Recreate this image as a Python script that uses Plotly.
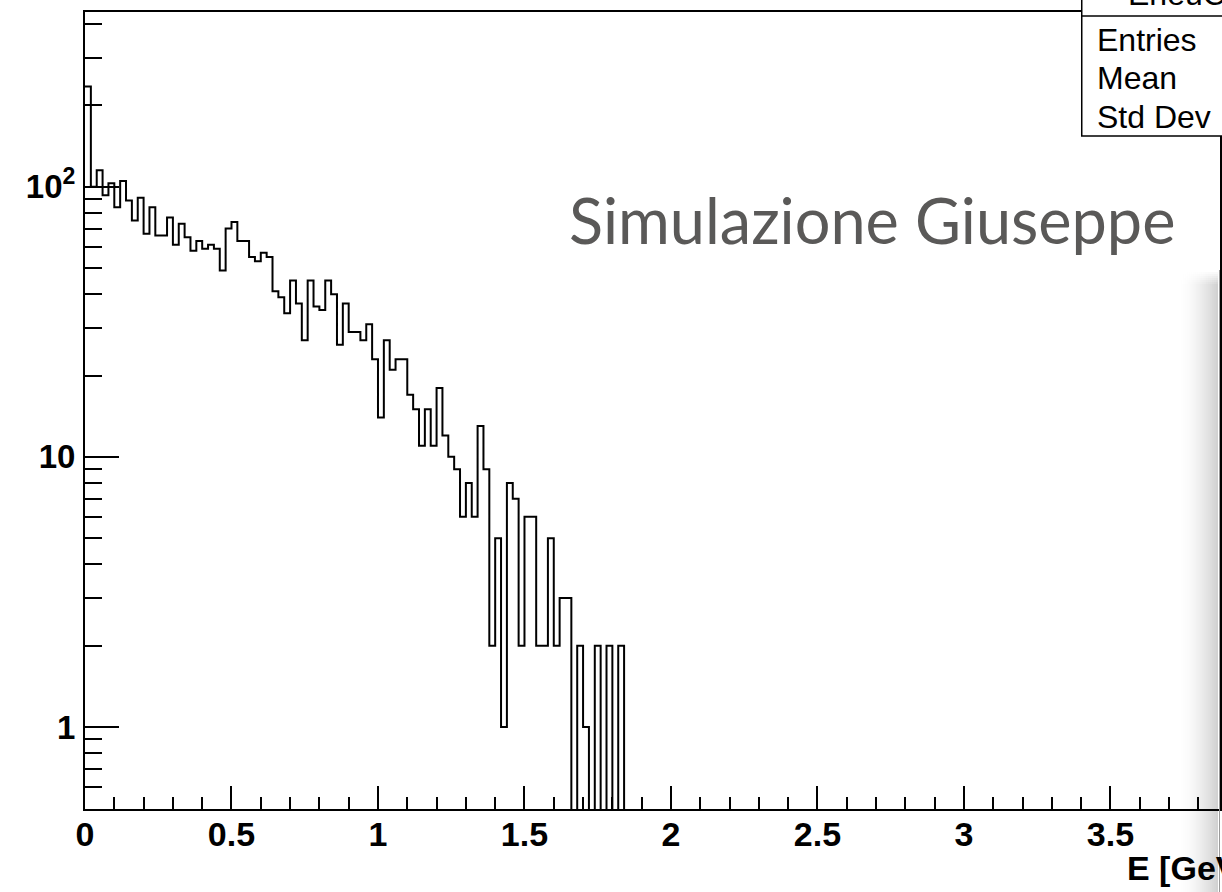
import plotly.graph_objects as go
import numpy as np

# ---------------- data ----------------
bin_width = 0.02
counts = [235, 100, 115, 93, 103, 84, 105, 89, 75, 91,
          67, 84, 66, 66, 77, 61, 73, 65, 58, 63,
          59, 61, 59, 49, 70, 74, 63, 63, 55, 53,
          57, 55, 41, 39, 34, 45, 37, 27, 45, 36,
          35, 45, 40, 26, 37, 29, 29, 27, 31, 23,
          14, 27, 21, 23, 23, 17, 15, 11, 15, 11,
          18, 12, 10, 9, 6, 8, 6, 13, 9, 2,
          5, 1, 8, 7, 2, 6, 6, 2, 2, 5,
          2, 3, 3, 0, 2, 1, 0, 2, 0, 2,
          0, 2, 0]
x_tickvals = [0, 0.5, 1, 1.5, 2, 2.5, 3, 3.5]
x_ticktext = ["0", "0.5", "1", "1.5", "2", "2.5", "3", "3.5"]
y_tickvals = [1, 10, 100]
y_ticktext = ["1", "10", "10<sup>2</sup>"]
y_minor = [0.6, 0.7, 0.8, 0.9, 2, 3, 4, 5, 6, 7, 8, 9,
           20, 30, 40, 50, 60, 70, 80, 90, 200, 300, 400]
stat_labels = ["Entries", "Mean", "Std Dev"]
title_text = "Simulazione Giuseppe"

# ---------------- geometry helpers ----------------
W, H = 1222, 892
L, T, B = 85, 12, 809
R = W


def px(xp):
    return (xp - L) / (R - L)


def py(yp):
    return (B - yp) / (B - T)


edges = np.arange(len(counts) + 1) * bin_width
c = np.array(counts, dtype=float)
yplot = np.where(c > 0, c, 1e-3)  # empty bins drop below the axis (ROOT style)
yplot = np.append(yplot, yplot[-1])

fig = go.Figure()
fig.add_trace(go.Scatter(
    x=edges, y=yplot, mode="lines", line_shape="hv",
    line=dict(color="black", width=2), hoverinfo="skip", showlegend=False))

font_root = "Liberation Sans, Arial, Helvetica, sans-serif"

fig.update_layout(
    width=W, height=H,
    margin=dict(l=L, r=0, t=T, b=H - B),
    paper_bgcolor="white", plot_bgcolor="white",
    showlegend=False,
    xaxis=dict(
        range=[0, (R - L) / 293.5], showgrid=False, zeroline=False,
        showline=True, linecolor="black", linewidth=2, mirror=True,
        ticks="inside", ticklen=23, tickwidth=1.5, tickcolor="black",
        tickvals=x_tickvals, ticktext=x_ticktext,
        tickfont=dict(family=font_root, size=34, color="black", weight="bold"),
        ticklabelstandoff=-6,
        minor=dict(ticks="inside", ticklen=12, tickwidth=1.5, tickcolor="black", dtick=0.1),
    ),
    yaxis=dict(
        type="log", range=[np.log10(0.497), 2.647], showgrid=False, zeroline=False,
        showline=True, linecolor="black", linewidth=2, mirror=True,
        ticks="inside", ticklen=34, tickwidth=1.5, tickcolor="black",
        tickvals=y_tickvals, ticktext=y_ticktext,
        tickfont=dict(family=font_root, size=33, color="black", weight="bold"),
        ticklabelstandoff=1,
        minor=dict(ticks="inside", ticklen=17, tickwidth=1.5, tickcolor="black", tickvals=y_minor),
    ),
)

shapes = []
# right-side slide panel shadow (gradient approximated by strips)
xs0, xs1 = 1180, 1220
nstrip = 20
for i in range(nstrip):
    xa = xs0 + i * 2
    a = 0.19 * ((xa + 1 - xs0) / (xs1 - xs0)) ** 1.7
    shapes.append(dict(type="rect", xref="paper", yref="paper",
                       x0=px(xa), x1=px(xa + 2),
                       y0=py(H + 5), y1=py(284),
                       fillcolor=f"rgba(0,0,0,{a:.3f})", line=dict(width=0), layer="above"))
    # soft fade at the top of the shadow
    for j in range(6):
        shapes.append(dict(type="rect", xref="paper", yref="paper",
                           x0=px(xa), x1=px(xa + 2),
                           y0=py(284 - 2 * j), y1=py(284 - 2 * j - 2),
                           fillcolor=f"rgba(0,0,0,{a * (1 - (j + 1) / 7):.3f})",
                           line=dict(width=0), layer="above"))
shapes.append(dict(type="line", xref="paper", yref="paper",
                   x0=px(1221.5), x1=px(1221.5), y0=py(H + 5), y1=py(270),
                   line=dict(color="#9a9a9a", width=1), layer="above"))
# stats box
shapes.append(dict(type="rect", xref="paper", yref="paper",
                   x0=px(1083.5), x1=px(1240), y0=py(136), y1=py(-20),
                   fillcolor="white", line=dict(color="black", width=1.5), layer="above"))
shapes.append(dict(type="line", xref="paper", yref="paper",
                   x0=px(1083.5), x1=px(1240), y0=py(16), y1=py(16),
                   line=dict(color="black", width=1.5), layer="above"))
fig.update_layout(shapes=shapes)

ann = []
ann.append(dict(text="EneuC", xref="paper", yref="paper", x=px(1128), y=py(14),
                xanchor="left", yanchor="bottom", showarrow=False,
                font=dict(family=font_root, size=32, color="black")))
for k, (lab, yc) in enumerate(zip(stat_labels, [40, 78, 117])):
    ann.append(dict(text=lab, xref="paper", yref="paper", x=px(1097), y=py(yc),
                    xanchor="left", yanchor="middle", showarrow=False,
                    font=dict(family=font_root, size=32, color="black")))
ann.append(dict(text=title_text, xref="paper", yref="paper", x=px(568), y=py(219),
                xanchor="left", yanchor="middle", showarrow=False,
                font=dict(family="Lato, Noto Sans, sans-serif", size=63, color="#5a5958")))
ann.append(dict(text="<b>E [GeV]</b>", xref="paper", yref="paper", x=px(1127), y=py(868),
                xanchor="left", yanchor="middle", showarrow=False,
                font=dict(family=font_root, size=34, color="black")))
fig.update_layout(annotations=ann)

fig.write_html("out.html")
